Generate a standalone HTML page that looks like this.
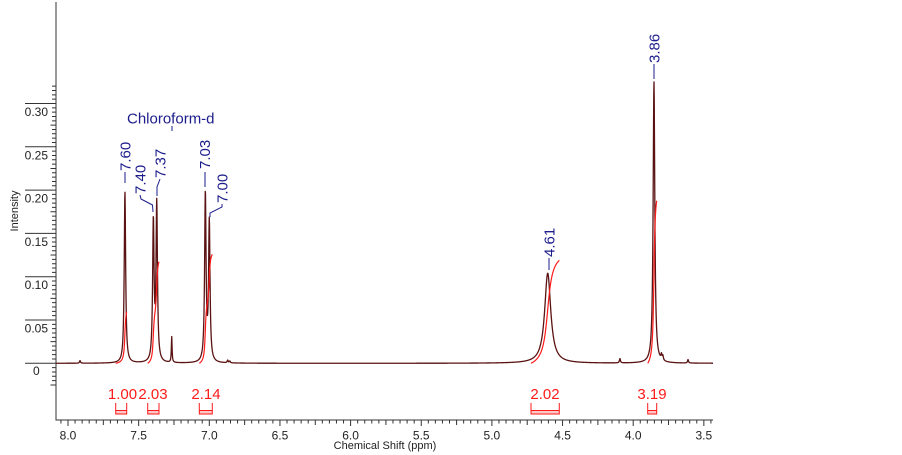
<!DOCTYPE html>
<html><head><meta charset="utf-8">
<style>
html,body{margin:0;padding:0;background:#fff;}
svg{display:block;font-family:"Liberation Sans",Arial,sans-serif;}
</style></head>
<body>
<svg id="c" width="902" height="455" viewBox="0 0 902 455" xmlns="http://www.w3.org/2000/svg">
  <rect x="0" y="0" width="902" height="455" fill="#fff"/>
  <g stroke="#333" stroke-width="1" fill="none">
    <line x1="56" y1="2" x2="56" y2="420.5"/>
    <line x1="55.5" y1="420" x2="713" y2="420"/>
  </g>
  <text x="18" y="211" font-size="11" fill="#222" text-anchor="middle" transform="rotate(-90 18 211)">Intensity</text>
  <text x="385" y="449" font-size="11" fill="#222" text-anchor="middle">Chemical Shift (ppm)</text>

  <!-- solvent label -->
  <text x="127" y="123.5" font-size="15" fill="#1c1c8c">Chloroform-d</text>
  <line x1="172" y1="126" x2="172" y2="131" stroke="#1c1c8c" stroke-width="1"/>

  <!-- peak labels -->
  <g font-size="15" fill="#1c1c8c">
    <text transform="translate(130.4,171) rotate(-90)">7.60</text>
    <text transform="translate(145.4,194) rotate(-90)">7.40</text>
    <text transform="translate(165.4,178) rotate(-90)">7.37</text>
    <text transform="translate(209.9,169) rotate(-90)">7.03</text>
    <text transform="translate(227.4,203) rotate(-90)">7.00</text>
    <text transform="translate(554.4,257) rotate(-90)">4.61</text>
    <text transform="translate(659.4,63) rotate(-90)">3.86</text>
  </g>
  <g stroke="#1c1c8c" stroke-width="1" fill="none">
    <path d="M125,172V183"/>
    <path d="M140,195L141,199L152.5,205L153,212"/>
    <path d="M160,179L157,187L157,196"/>
    <path d="M205,172V187"/>
    <path d="M222,204L222,207L210,213L210,217"/>
    <path d="M549,258V270"/>
    <path d="M654,64V79"/>
  </g>

  <!-- integral labels -->
  <g font-size="15" fill="#ff1a1a" text-anchor="middle">
    <text x="122.5" y="399">1.00</text>
    <text x="153" y="399">2.03</text>
    <text x="206" y="399">2.14</text>
    <text x="545" y="399">2.02</text>
    <text x="652" y="399">3.19</text>
  </g>
  <g id="dyn"></g>
</svg>
<script>
(function(){
const NS="http://www.w3.org/2000/svg";
const svg=document.getElementById('dyn');
function el(tag,attrs,text){const e=document.createElementNS(NS,tag);for(const k in attrs)e.setAttribute(k,attrs[k]);if(text!==undefined)e.textContent=text;svg.appendChild(e);return e;}
const X=p=>68+(8-p)*141.3;
const Y=v=>363.3-v*866;
const P=x=>8-(x-68)/141.3;

/* y ticks */
let d='';
for(let i=-5;i<=64;i++){
  const y=Y(i*0.005);
  const x1=(i%10===0)?25:((i%5===0)?50.5:52);
  d+='M'+x1+','+y.toFixed(2)+'H56';
  if(i%10===0&&i>=0){
    if(i===0){el('text',{x:33,y:(y+11.5).toFixed(2),'font-size':12,fill:'#222'},'0');}
    else{el('text',{x:48,y:(y+12.5).toFixed(2),'font-size':12,fill:'#222','text-anchor':'end'},(i*0.005).toFixed(2));}
  }
}
/* x ticks */
for(let k=69;k<=161;k++){
  const x=X(k/20);
  const len=(k%10===0)?6:((k%5===0)?5:3.5);
  d+='M'+x.toFixed(2)+',420V'+(420+len);
  if(k%10===0){el('text',{x:x.toFixed(2),y:439.5,'font-size':12,fill:'#222','text-anchor':'middle'},(k/20).toFixed(1));}
}
el('path',{d:d,stroke:'#333','stroke-width':1,fill:'none'});

/* spectrum */
const peaks=[
 [7.597,0.198,0.006],
 [7.396,0.161,0.006],
 [7.372,0.181,0.006],
 [7.266,0.030,0.003],
 [7.028,0.194,0.006],
 [7.000,0.1605,0.006],
 [7.915,0.003,0.004],
 [6.870,0.003,0.004],
 [6.855,0.002,0.004],
 [4.605,0.104,0.026],
 [4.094,0.005,0.004],
 [3.853,0.325,0.007],
 [3.800,0.006,0.004],
 [3.790,0.005,0.004],
 [3.612,0.004,0.004]
];
function f(p){let s=0;for(const pk of peaks){const dd=p-pk[0];const w=pk[2];s+=pk[1]*w*w/(dd*dd+w*w);}return s;}
let pts=[];
for(let x=56;x<=713.001;x+=0.25){pts.push(x.toFixed(2)+','+Y(f(P(x))).toFixed(2));}
el('path',{d:'M'+pts.join('L'),stroke:'#5a1212','stroke-width':1.3,fill:'none','stroke-linejoin':'round'});

/* integrals */
const ints=[[115.7,126.7,51.6],[147.7,159,101.6],[199.3,212.3,109],[531,559.3,103],[647.7,656.7,162.6]];
for(const it of ints){
  const a=it[0],b=it[1],r=it[2];
  let xs=[],cs=[],c=0;
  for(let x=a;x<=b+1e-6;x+=0.1){c+=f(P(x));xs.push(x);cs.push(c);}
  const c0=cs[0],tot=c-c0;
  const p2=xs.map((x,i)=>x.toFixed(2)+','+(363.3-(cs[i]-c0)/tot*r).toFixed(2));
  el('path',{d:'M'+p2.join('L'),stroke:'#ff1a1a','stroke-width':1.2,fill:'none'});
  el('rect',{x:a,y:410.5,width:(b-a).toFixed(2),height:3.5,fill:'#ffc8c8',stroke:'none'});
  el('path',{d:'M'+a+',403V414H'+b+'V403M'+a+',410.5H'+b,stroke:'#ff1a1a','stroke-width':1,fill:'none'});
}
})();
</script>
</body></html>
